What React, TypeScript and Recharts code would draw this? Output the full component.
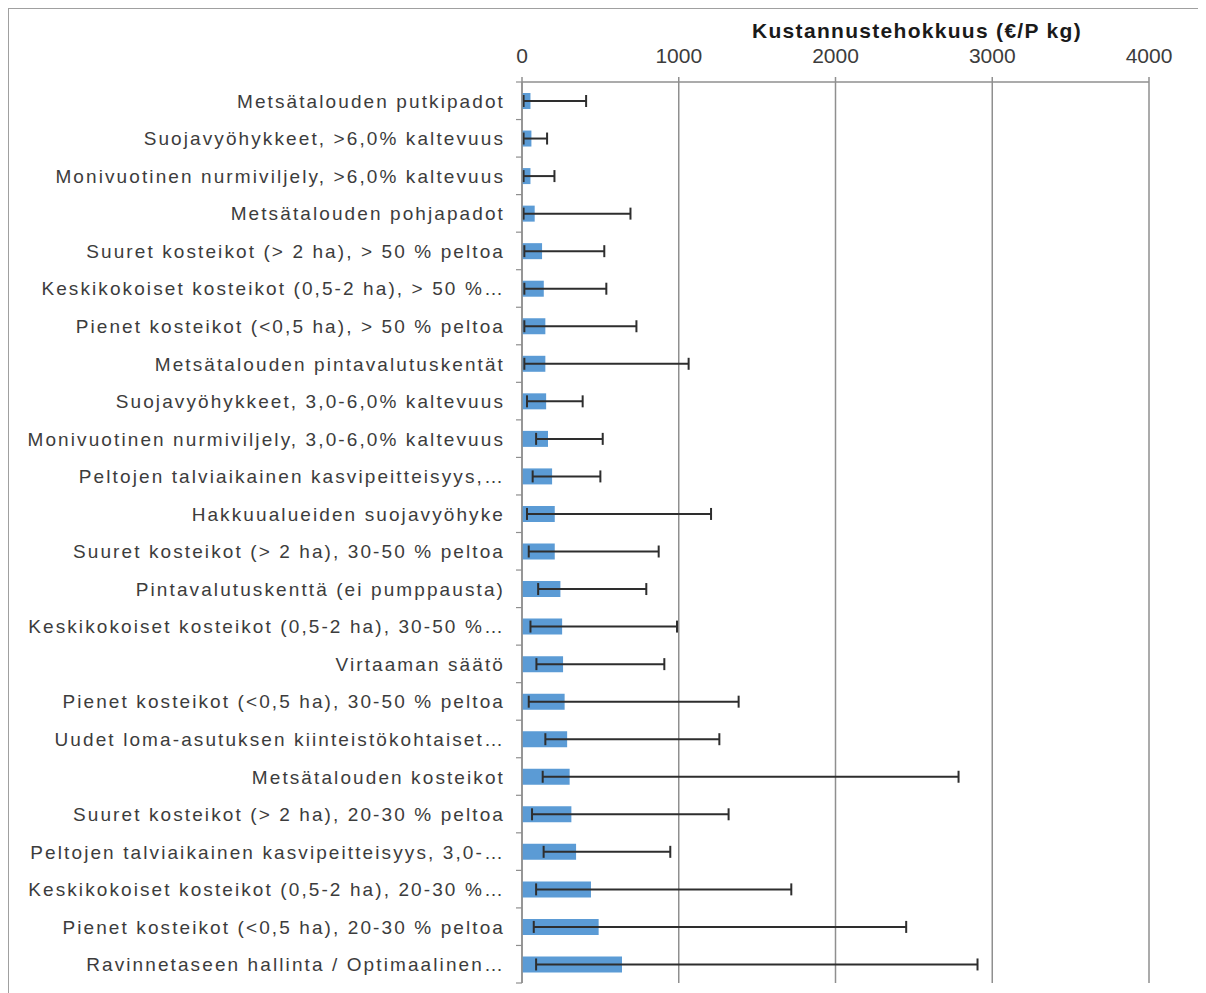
import { BarChart, Bar, XAxis, YAxis, CartesianGrid, ErrorBar } from 'recharts';

const categories = [
  'Metsätalouden putkipadot',
  'Suojavyöhykkeet, >6,0% kaltevuus',
  'Monivuotinen nurmiviljely, >6,0% kaltevuus',
  'Metsätalouden pohjapadot',
  'Suuret kosteikot (> 2 ha), > 50 % peltoa',
  'Keskikokoiset kosteikot (0,5-2 ha), > 50 %…',
  'Pienet kosteikot (<0,5 ha), > 50 % peltoa',
  'Metsätalouden pintavalutuskentät',
  'Suojavyöhykkeet, 3,0-6,0% kaltevuus',
  'Monivuotinen nurmiviljely, 3,0-6,0% kaltevuus',
  'Peltojen talviaikainen kasvipeitteisyys,…',
  'Hakkuualueiden suojavyöhyke',
  'Suuret kosteikot (> 2 ha), 30-50 % peltoa',
  'Pintavalutuskenttä (ei pumppausta)',
  'Keskikokoiset kosteikot (0,5-2 ha), 30-50 %…',
  'Virtaaman säätö',
  'Pienet kosteikot (<0,5 ha), 30-50 % peltoa',
  'Uudet loma-asutuksen kiinteistökohtaiset…',
  'Metsätalouden kosteikot',
  'Suuret kosteikot (> 2 ha), 20-30 % peltoa',
  'Peltojen talviaikainen kasvipeitteisyys, 3,0-…',
  'Keskikokoiset kosteikot (0,5-2 ha), 20-30 %…',
  'Pienet kosteikot (<0,5 ha), 20-30 % peltoa',
  'Ravinnetaseen hallinta / Optimaalinen…',
];

// €/P kg: central estimate, lower and upper bound
const costMean = [54, 60, 54, 81, 128, 139, 149, 149, 154, 166, 192, 209, 209, 245, 256, 262, 272, 288, 304, 315, 345, 440, 489, 638];
const costLow = [10, 10, 10, 10, 15, 15, 15, 15, 32, 90, 68, 32, 43, 103, 54, 92, 43, 149, 132, 64, 138, 90, 75, 90];
const costHigh = [409, 160, 207, 692, 525, 538, 730, 1063, 387, 515, 500, 1206, 872, 793, 989, 908, 1382, 1259, 2785, 1318, 946, 1718, 2451, 2906];

const xTicks = [0, 1000, 2000, 3000, 4000];
const title = 'Kustannustehokkuus (€/P kg)';

const data = categories.map((name, i) => ({
  name,
  mean: costMean[i],
  err: [costMean[i] - costLow[i], costHigh[i] - costMean[i]],
}));

const WIDTH = 1198;
const HEIGHT = 985;
const MARGIN = { top: 44, right: 57, bottom: 10, left: 0 };
const X_AXIS_HEIGHT = 30;
const ROW = (HEIGHT - MARGIN.top - X_AXIS_HEIGHT - MARGIN.bottom) / categories.length;

const AXIS = '#8f8f8f';
const FONT = '"Liberation Sans", Arial, sans-serif';

const CategoryTick = (props: any) => {
  const { x, y, payload, index } = props;
  const half = ROW / 2;
  return (
    <g>
      <line x1={x - 6} x2={x} y1={y - half} y2={y - half} stroke={AXIS} strokeWidth={1.2} />
      {index === categories.length - 1 && (
        <line x1={x - 6} x2={x} y1={y + half} y2={y + half} stroke={AXIS} strokeWidth={1.2} />
      )}
      <text
        x={x - 17}
        y={y}
        dy={7}
        textAnchor="end"
        fontFamily={FONT}
        fontSize={19}
        letterSpacing={2.1}
        fill="#3c3c3c"
      >
        {payload.value}
      </text>
    </g>
  );
};

const TitleLabel = () => (
  <text
    x={909}
    y={30}
    textAnchor="middle"
    fontFamily={FONT}
    fontSize={21}
    fontWeight="bold"
    letterSpacing={1.3}
    fill="#1a1a1a"
  >
    {title}
  </text>
);

export default function App() {
  return (
    <div style={{ position: 'relative', width: WIDTH, height: HEIGHT, background: '#fff' }}>
      <div
        style={{
          position: 'absolute',
          left: -1,
          top: -1,
          right: 0,
          bottom: 0,
          borderLeft: '2px solid #a0a0a0',
          borderTop: '2px solid #a0a0a0',
          pointerEvents: 'none',
        }}
      />
      <BarChart width={WIDTH} height={HEIGHT} data={data} layout="vertical" margin={MARGIN}>
        <CartesianGrid horizontal={false} stroke={AXIS} strokeWidth={1.5} />
        <XAxis
          type="number"
          orientation="top"
          domain={[0, 4000]}
          ticks={xTicks}
          interval={0}
          height={X_AXIS_HEIGHT}
          axisLine={{ stroke: AXIS, strokeWidth: 1.5 }}
          tickLine={{ stroke: AXIS, strokeWidth: 1.5 }}
          tickSize={5}
          tickMargin={14}
          tick={{ fontFamily: FONT, fontSize: 21, fill: '#3c3c3c' }}
          label={{ content: TitleLabel }}
        />
        <YAxis
          type="category"
          dataKey="name"
          width={514}
          interval={0}
          axisLine={{ stroke: AXIS, strokeWidth: 1.5 }}
          tickLine={false}
          tickSize={0}
          tickMargin={0}
          tick={CategoryTick}
        />
        <Bar dataKey="mean" fill="#5b9bd5" barSize={16} isAnimationActive={false}>
          <ErrorBar dataKey="err" direction="x" width={6} stroke="#2e2e2e" strokeWidth={2} isAnimationActive={false} />
        </Bar>
      </BarChart>
    </div>
  );
}
